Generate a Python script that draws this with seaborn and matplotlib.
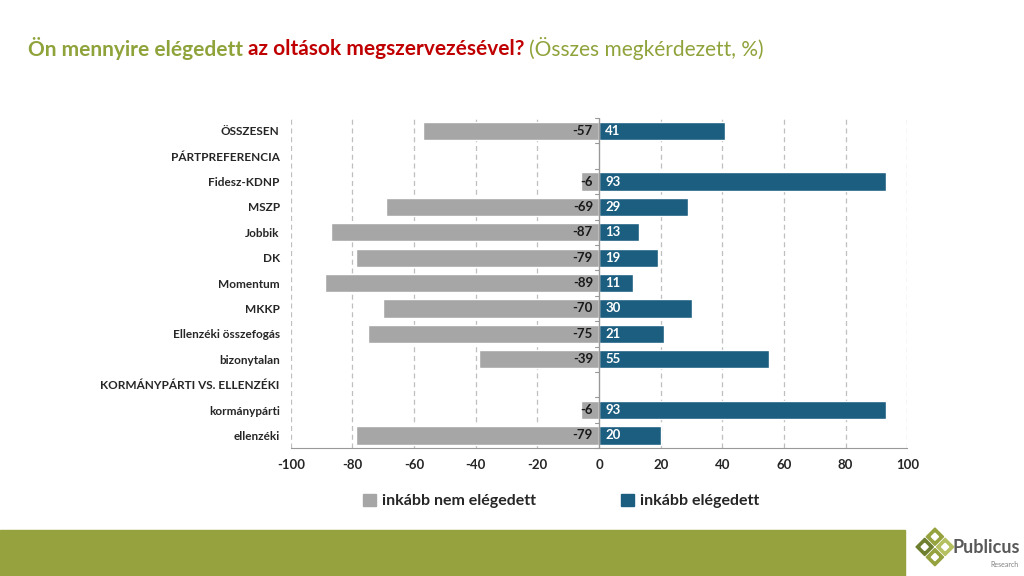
import pandas as pd
import matplotlib.pyplot as plt
import matplotlib.patches as mpatches
import seaborn as sns

# data
categories = ['ÖSSZESEN', 'PÁRTPREFERENCIA', 'Fidesz-KDNP', 'MSZP', 'Jobbik', 'DK',
              'Momentum', 'MKKP', 'Ellenzéki összefogás', 'bizonytalan',
              'KORMÁNYPÁRTI VS. ELLENZÉKI', 'kormánypárti', 'ellenzéki']
not_satisfied = [-57, None, -6, -69, -87, -79, -89, -70, -75, -39, None, -6, -79]
satisfied = [41, None, 93, 29, 13, 19, 11, 30, 21, 55, None, 93, 20]
x_ticks = [-100, -80, -60, -40, -20, 0, 20, 40, 60, 80, 100]

GREY = '#A6A6A6'
BLUE = '#1B5E80'
GREEN = '#95A23D'

sns.set_style('white')
plt.rcParams['font.family'] = ['Lato', 'DejaVu Sans']

df = pd.DataFrame({'cat': categories, 'neg': not_satisfied, 'pos': satisfied})

fig = plt.figure(figsize=(10.24, 5.76), dpi=100)
ax = fig.add_axes([0.284, 0.222, 0.602, 0.573])

sns.barplot(data=df, y='cat', x='neg', order=categories, color=GREY,
            width=0.72, ax=ax, orient='h', saturation=1)
sns.barplot(data=df, y='cat', x='pos', order=categories, color=BLUE,
            width=0.72, ax=ax, orient='h', saturation=1)

# value labels
for i, (n, p) in enumerate(zip(not_satisfied, satisfied)):
    if n is not None:
        ax.text(-2, i, f'{n}', ha='right', va='center', fontsize=9.5,
                fontweight='bold', color='#1a1a1a')
    if p is not None:
        ax.text(2, i, f'{p}', ha='left', va='center', fontsize=9.5,
                fontweight='bold', color='white')

ax.set_xlim(-100, 100)
ax.set_ylim(len(categories) - 0.5, -0.5)
ax.set_xticks(x_ticks)
ax.set_xticklabels([str(t) for t in x_ticks], fontsize=9.5, fontweight='bold')
ax.set_yticks(range(len(categories)))
ax.set_yticklabels(categories, fontsize=8.5, fontweight='bold')
ax.tick_params(axis='y', length=0, pad=8)
ax.tick_params(axis='x', length=4, color='#999999', pad=4)
ax.set_xlabel('')
ax.set_ylabel('')

for t in x_ticks:
    if t != 0:
        ax.axvline(t, color='#BFBFBF', lw=0.9, ls=(0, (4, 3)), zorder=0)
ax.axvline(0, color='#999999', lw=1, zorder=3)
for sp in ['top', 'right', 'left']:
    ax.spines[sp].set_visible(False)
ax.spines['bottom'].set_color('#999999')

# small ticks on the zero line between rows
for k in range(len(categories) + 1):
    ax.plot([-1.2, 0], [k - 0.5, k - 0.5], color='#999999', lw=0.8, zorder=3,
            clip_on=False)

# legend
handles = [mpatches.Patch(color=GREY, label='inkább nem elégedett'),
           mpatches.Patch(color=BLUE, label='inkább elégedett')]
leg = fig.legend(handles=handles, loc='center', bbox_to_anchor=(0.548, 0.13), ncol=2,
                 frameon=False, columnspacing=5.3, handlelength=0.8, handleheight=0.8,
                 handletextpad=0.4, prop={'size': 11.5, 'weight': 'bold'})

# title
fig.text(0.027, 0.915, 'Ön mennyire elégedett ', color='#8FA33B', fontsize=15,
         fontweight='bold', ha='left', va='center')
t1 = fig.texts[-1]
fig.canvas.draw()
bb = t1.get_window_extent().transformed(fig.transFigure.inverted())
fig.text(bb.x1, 0.915, 'az oltások megszervezésével?', color='#C00000', fontsize=15,
         fontweight='bold', ha='left', va='center')
t2 = fig.texts[-1]
fig.canvas.draw()
bb2 = t2.get_window_extent().transformed(fig.transFigure.inverted())
fig.text(bb2.x1 + 0.005, 0.915, '(Összes megkérdezett, %)', color='#8FA33B',
         fontsize=15, ha='left', va='center')

# footer band and logo
fig.patches.append(mpatches.Rectangle((0, 0), 0.884, 0.08, transform=fig.transFigure,
                                      color=GREEN, zorder=0))
lax = fig.add_axes([0.893, 0.015, 0.04, 0.071])
lax.set_xlim(0, 4)
lax.set_ylim(0, 4)
lax.set_aspect('equal')
lax.axis('off')
for (cx, cy, c) in [(1.0, 2.0, '#6E7F30'), (2.0, 3.0, GREEN), (2.0, 1.0, GREEN),
                    (3.0, 2.0, '#B5C060')]:
    lax.add_patch(mpatches.RegularPolygon((cx, cy), 4, radius=0.85, color=c))
    lax.add_patch(mpatches.RegularPolygon((cx, cy), 4, radius=0.35, color='white'))
fig.text(0.93, 0.05, 'Publicus', color='#595959', fontsize=13, fontweight='bold',
         ha='left', va='center')
fig.text(0.995, 0.02, 'Research', color='#808080', fontsize=5, ha='right', va='center')

fig.savefig('out.png', dpi=100)
